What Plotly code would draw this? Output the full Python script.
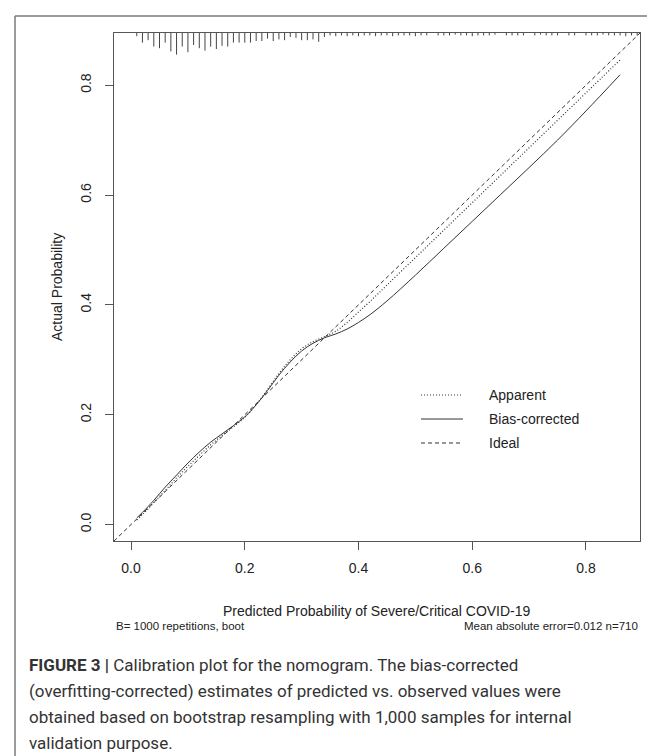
import plotly.graph_objects as go

# ---------------- data ----------------
pred_x = [0.01, 0.02, 0.04, 0.06, 0.08, 0.10, 0.12, 0.14, 0.16, 0.18, 0.20, 0.22, 0.24, 0.26,
          0.28, 0.30, 0.32, 0.34, 0.36, 0.38, 0.40, 0.42, 0.45, 0.50, 0.55, 0.60, 0.65, 0.70,
          0.75, 0.80, 0.86]
bias_corrected = [0.012, 0.022, 0.044, 0.068, 0.090, 0.112, 0.132, 0.150, 0.165, 0.180, 0.196,
                  0.218, 0.244, 0.272, 0.296, 0.316, 0.330, 0.340, 0.347, 0.356, 0.368, 0.382,
                  0.407, 0.454, 0.503, 0.552, 0.601, 0.650, 0.700, 0.753, 0.819]
apparent = [0.008, 0.018, 0.040, 0.062, 0.085, 0.106, 0.126, 0.145, 0.162, 0.178, 0.195,
            0.218, 0.246, 0.275, 0.300, 0.320, 0.333, 0.342, 0.352, 0.368, 0.387, 0.406,
            0.436, 0.486, 0.536, 0.586, 0.636, 0.686, 0.736, 0.786, 0.846]
ideal_x = [-0.03, 0.895]
ideal_y = [-0.03, 0.895]

# rug (distribution of predicted probabilities), relative frequency per 0.01 bin
rug_x = [round(0.01 * i, 2) for i in range(1, 90)]
rug_freq = [4, 12, 9, 17, 19, 12, 23, 27, 17, 24, 15, 19, 22, 17, 20, 16, 17, 12, 12, 12,
            12, 10, 10, 7, 10, 8, 9, 5, 6, 9, 9, 8, 11, 5, 3, 4, 3, 4, 3, 4,
            3, 3, 4, 3, 3, 4, 3, 3, 3, 4, 3, 3, 0, 3, 3, 3, 2, 3, 3, 4,
            3, 3, 3, 2, 0, 3, 3, 3, 3, 0, 3, 2, 3, 3, 3, 0, 3, 3, 0, 3,
            3, 3, 2, 3, 3, 3, 4, 3, 3]

tick_vals = [0.0, 0.2, 0.4, 0.6, 0.8]
tick_text = ["0.0", "0.2", "0.4", "0.6", "0.8"]
axis_range = [-0.03, 0.895]

x_title = "Predicted Probability of Severe/Critical COVID-19"
y_title = "Actual Probability"
sub_left = "B= 1000 repetitions, boot"
sub_right = "Mean absolute error=0.012 n=710"
legend_labels = ["Apparent", "Bias-corrected", "Ideal"]
caption_lines = [
    "<b>FIGURE 3 |</b> Calibration plot for the nomogram. The bias-corrected",
    "(overfitting-corrected) estimates of predicted vs. observed values were",
    "obtained based on bootstrap resampling with 1,000 samples for internal",
    "validation purpose.",
]

# ---------------- layout geometry ----------------
W, H = 655, 756
ML, MR, MT, MB = 106, 23, 25, 223
PW, PH = W - ML - MR, H - MT - MB

def px(xp):
    return (xp - ML) / PW

def py(yp):
    return (H - MB - yp) / PH

LINE = "#333333"
FONT = "Liberation Sans, Arial, sans-serif"

fig = go.Figure()

# rug at the top of the plot
unit_per_px = (axis_range[1] - axis_range[0]) / PH
rug_scale = 0.8
rx, ry = [], []
for xv, f in zip(rug_x, rug_freq):
    if f <= 0:
        continue
    rx += [xv, xv, None]
    ry += [axis_range[1], axis_range[1] - f * rug_scale * unit_per_px, None]
fig.add_trace(go.Scatter(x=rx, y=ry, mode="lines", line=dict(color="#444444", width=1),
                         showlegend=False, hoverinfo="skip"))

fig.add_trace(go.Scatter(x=ideal_x, y=ideal_y, mode="lines", name="Ideal",
                         line=dict(color=LINE, width=1, dash="4px,3px"), showlegend=False))
fig.add_trace(go.Scatter(x=pred_x, y=apparent, mode="lines", name="Apparent",
                         line=dict(color=LINE, width=1.2, dash="1px,2px", shape="spline"),
                         showlegend=False))
fig.add_trace(go.Scatter(x=pred_x, y=bias_corrected, mode="lines", name="Bias-corrected",
                         line=dict(color=LINE, width=1, shape="spline"), showlegend=False))

axis_common = dict(range=axis_range, tickvals=tick_vals, ticktext=tick_text,
                   showgrid=False, zeroline=False, showline=True, mirror=True,
                   linecolor="#555555", linewidth=1, ticks="outside", ticklen=8,
                   tickcolor="#555555", tickwidth=1,
                   tickfont=dict(family=FONT, size=14, color="#222222"))
fig.update_xaxes(**axis_common, ticklabelstandoff=6)
fig.update_yaxes(**axis_common, tickangle=-90, ticklabelstandoff=8)

shapes = []
anns = []
# legend samples
dashes = ["1px,2px", "solid", "4px,3px"]
rows = [387, 411, 435]
for lab, d, r in zip(legend_labels, dashes, rows):
    shapes.append(dict(type="line", xref="paper", yref="paper", x0=px(413), x1=px(455),
                       y0=py(r), y1=py(r), line=dict(color=LINE, width=1.2 if d != "solid" else 1, dash=d)))
    anns.append(dict(text=lab, xref="paper", yref="paper", x=px(479), y=py(r),
                     xanchor="left", yanchor="middle", showarrow=False,
                     font=dict(family=FONT, size=14, color="#222222")))

# axis titles and subtitles
anns.append(dict(text=x_title, xref="paper", yref="paper", x=0.5, y=py(603), xanchor="center",
                 yanchor="middle", showarrow=False, font=dict(family=FONT, size=14, color="#222222")))
anns.append(dict(text=y_title, xref="paper", yref="paper", x=px(49), y=0.5, xanchor="center",
                 yanchor="middle", textangle=-90, showarrow=False,
                 font=dict(family=FONT, size=14, color="#222222")))
anns.append(dict(text=sub_left, xref="paper", yref="paper", x=0, y=py(618), xanchor="left",
                 yanchor="middle", showarrow=False, font=dict(family=FONT, size=11.5, color="#222222")))
anns.append(dict(text=sub_right, xref="paper", yref="paper", x=1, y=py(618), xanchor="right",
                 yanchor="middle", showarrow=False, font=dict(family=FONT, size=11.5, color="#222222")))

# caption
cap_y = [657, 683, 709, 735]
for t, yy in zip(caption_lines, cap_y):
    anns.append(dict(text=t, xref="paper", yref="paper", x=px(19), y=py(yy), xanchor="left",
                     yanchor="middle", showarrow=False,
                     font=dict(family="Roboto, sans-serif", size=17, color="#333333")))

# outer frame (top and left edges)
frame = "#7a7a7a"
shapes.append(dict(type="line", xref="paper", yref="paper", x0=px(7), x1=px(W), y0=py(8), y1=py(8),
                   line=dict(color=frame, width=1.5)))
shapes.append(dict(type="line", xref="paper", yref="paper", x0=px(7), x1=px(7), y0=py(8), y1=py(H),
                   line=dict(color=frame, width=1.5)))

fig.update_layout(width=W, height=H, margin=dict(l=ML, r=MR, t=MT, b=MB),
                  paper_bgcolor="white", plot_bgcolor="white", showlegend=False,
                  shapes=shapes, annotations=anns)

fig.write_html("out.html")
